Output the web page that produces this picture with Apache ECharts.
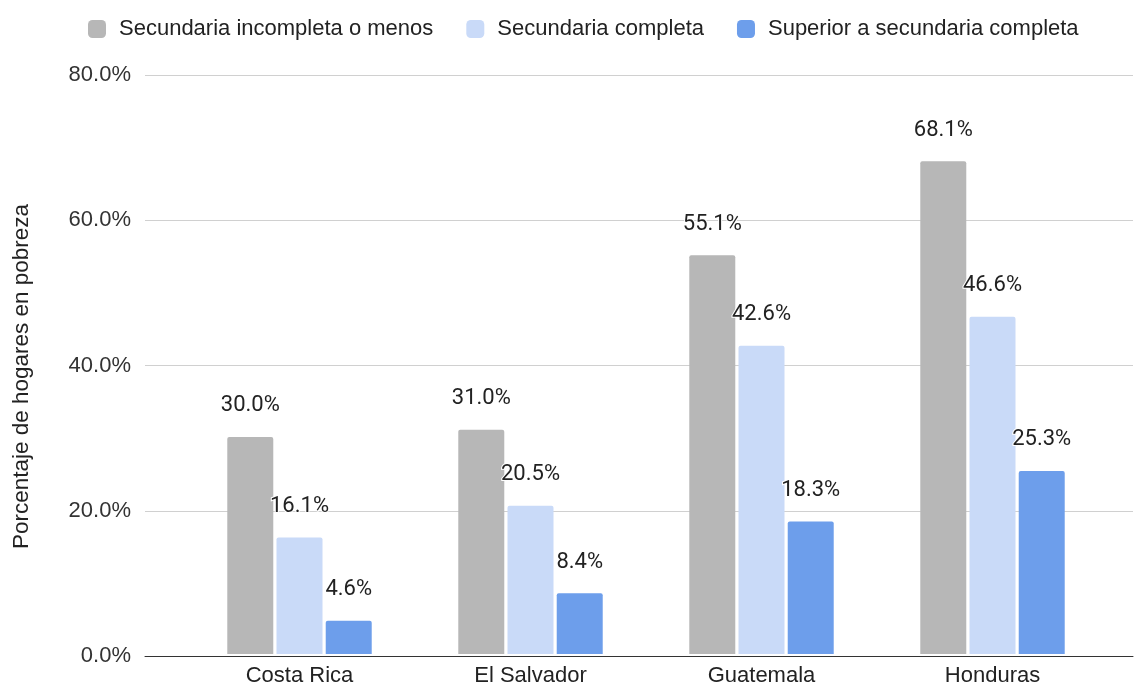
<!DOCTYPE html>
<html>
<head>
<meta charset="utf-8">
<script src="https://cdn.jsdelivr.net/npm/echarts@6/dist/echarts.min.js"></script>
<style>
    html, body { margin: 0; padding: 0; background: #fff; }
    #chart { width: 1136px; height: 687px; }
</style>
</head>
<body>
<div id="chart"></div>
<script>
// datos
var paises = ['Costa Rica', 'El Salvador', 'Guatemala', 'Honduras'];
var secIncompleta = [30.0, 31.0, 55.1, 68.1];
var secCompleta = [16.1, 20.5, 42.6, 46.6];
var superior = [4.6, 8.4, 18.3, 25.3];
var nombresSeries = ['Secundaria incompleta o menos', 'Secundaria completa', 'Superior a secundaria completa'];
var colores = ['#b7b7b7', '#c9daf8', '#6d9eeb'];

var chart = echarts.init(document.getElementById('chart'));

function serie (i, data) {
    return {
        name: nombresSeries[i],
        type: 'bar',
        xAxisIndex: 1,
        yAxisIndex: 1,
        data: data,
        barWidth: 46,
        barGap: '7%',
        itemStyle: { color: colores[i], borderRadius: [2, 2, 0, 0] },
        label: {
            show: true,
            position: 'top',
            distance: 20,
            color: '#222',
            fontSize: 22,
            fontFamily: 'Roboto',
            textBorderColor: '#fff',
            textBorderWidth: 2,
            formatter: function (p) { return p.value.toFixed(1) + '%'; }
        }
    };
}

var option = {
    animation: false,
    textStyle: { fontFamily: 'Liberation Sans, Arial, sans-serif' },
    legend: {
        top: 13,
        left: 83,
        itemWidth: 18,
        itemHeight: 18,
        itemGap: 33,
        icon: 'roundRect',
        textStyle: { fontSize: 22, color: '#222', padding: [0, 0, 0, 8] },
        data: nombresSeries
    },
    // grid 0: eje y con lineas de fondo, grid 1: barras
    grid: [
        { left: 145, right: 3, top: 75, bottom: 31 },
        { left: 184, right: 28, top: 75, bottom: 31 }
    ],
    xAxis: [
        {
            gridIndex: 0,
            type: 'value',
            axisLine: { show: true, lineStyle: { color: '#333', width: 1 } },
            axisTick: { show: false },
            axisLabel: { show: false },
            splitLine: { show: false }
        },
        {
            gridIndex: 1,
            type: 'category',
            data: paises,
            axisLine: { show: false },
            axisTick: { show: false },
            axisLabel: { color: '#222', fontSize: 22, margin: 11 }
        }
    ],
    yAxis: [
        {
            gridIndex: 0,
            type: 'value',
            min: 0,
            max: 80,
            interval: 20,
            name: 'Porcentaje de hogares en pobreza',
            nameLocation: 'middle',
            nameGap: 112,
            nameTextStyle: { fontSize: 22.5, color: '#222', padding: [0, 22, 0, 0] },
            axisLine: { show: false },
            axisTick: { show: false },
            axisLabel: {
                color: '#333',
                fontSize: 22,
                margin: 14,
                formatter: function (v) { return v.toFixed(1) + '%'; }
            },
            splitLine: { lineStyle: { color: '#d0d0d0' } }
        },
        {
            gridIndex: 1,
            type: 'value',
            min: 0,
            max: 80,
            interval: 20,
            show: false
        }
    ],
    series: [
        serie(0, secIncompleta),
        serie(1, secCompleta),
        serie(2, superior)
    ]
};

chart.setOption(option);
</script>
</body>
</html>
